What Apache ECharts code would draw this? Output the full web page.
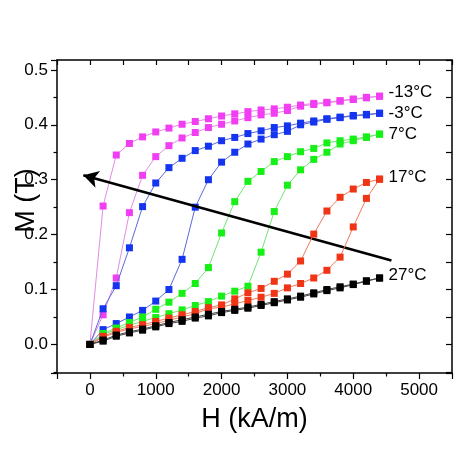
<!DOCTYPE html>
<html>
<head>
<meta charset="utf-8">
<script src="https://cdn.jsdelivr.net/npm/echarts@6/dist/echarts.min.js"></script>
<style>html,body{margin:0;padding:0;background:#fff}#c{width:474px;height:474px}</style>
</head>
<body>
<div id="c"></div>
<script>
// Applied field H (kA/m)
const H = [0,200,400,600,800,1000,1200,1400,1600,1800,2000,2200,2400,2600,2800,3000,3200,3400,3600,3800,4000,4200,4400];
// Magnetization M (T), increasing (up) and decreasing (down) field branches
const m13Up   = [0,0.054,0.121,0.240,0.308,0.342,0.362,0.376,0.386,0.395,0.401,0.407,0.413,0.418,0.421,0.426,0.434,0.437,0.440,0.443,0.446,0.449,0.452];
const m13Down = [0,0.252,0.345,0.366,0.378,0.387,0.394,0.401,0.406,0.411,0.416,0.420,0.424,0.427,0.429,0.432,0.436,0.439,0.441,0.444,0.447,0.450,0.452];
const m3Up    = [0,0.027,0.038,0.050,0.062,0.079,0.100,0.155,0.250,0.300,0.332,0.350,0.365,0.374,0.382,0.388,0.400,0.405,0.410,0.413,0.416,0.418,0.421];
const m3Down  = [0,0.065,0.107,0.176,0.251,0.294,0.322,0.339,0.353,0.361,0.371,0.377,0.384,0.389,0.395,0.398,0.403,0.407,0.411,0.414,0.417,0.419,0.421];
const p7Up    = [0,0.018,0.027,0.035,0.042,0.049,0.056,0.063,0.071,0.078,0.088,0.097,0.106,0.168,0.242,0.290,0.318,0.337,0.350,0.365,0.371,0.377,0.383];
const p7Down  = [0,0.020,0.030,0.040,0.050,0.064,0.077,0.093,0.111,0.140,0.203,0.260,0.297,0.315,0.333,0.342,0.351,0.357,0.367,0.371,0.374,0.378,0.383];
const p17Up   = [0,0.013,0.022,0.028,0.033,0.038,0.044,0.050,0.056,0.065,0.068,0.074,0.080,0.086,0.093,0.103,0.111,0.121,0.135,0.159,0.214,0.266,0.301];
const p17Down = [0,0.015,0.024,0.031,0.036,0.042,0.048,0.054,0.060,0.067,0.072,0.083,0.094,0.102,0.115,0.128,0.152,0.201,0.243,0.268,0.283,0.295,0.301];
const p27Up   = [0,0.006,0.015,0.021,0.026,0.032,0.038,0.042,0.048,0.052,0.058,0.062,0.066,0.071,0.076,0.081,0.086,0.092,0.098,0.103,0.109,0.115,0.121];
const p27Down = [0,0.008,0.017,0.023,0.028,0.034,0.040,0.045,0.050,0.055,0.060,0.064,0.068,0.073,0.078,0.083,0.088,0.094,0.100,0.105,0.110,0.116,0.121];
// Temperature labels
const temps = ['-13°C','-3°C','7°C','17°C','27°C'];
// Arrow (start -> tip) in data coordinates
const arrowStart = [4580, 0.153];
const arrowTip = [-100, 0.308];

const FONT = 'Liberation Sans, Arial, sans-serif';
const groups = [
  {up: m13Up, down: m13Down, pt: '#f23ef2', ln: '#e48ae4', t: temps[0], off: [0,-4]},
  {up: m3Up, down: m3Down, pt: '#1434f0', ln: '#5a6ad6', t: temps[1], off: [0,0]},
  {up: p7Up, down: p7Down, pt: '#16f016', ln: '#72e472', t: temps[2], off: [0,0]},
  {up: p17Up, down: p17Down, pt: '#f03416', ln: '#ee7a5c', t: temps[3], off: [0,-2]},
  {up: p27Up, down: p27Down, pt: '#000000', ln: '#444444', t: temps[4], off: [0,-3]}
];
const series = [];
groups.forEach(function(g, gi){
  ['up','down'].forEach(function(k){
    const s = {
      type: 'line',
      data: H.map(function(h,i){ return [h, g[k][i]]; }),
      symbol: 'rect',
      symbolSize: 7,
      showAllSymbol: true,
      itemStyle: {color: g.pt},
      lineStyle: {color: g.ln, width: 1},
      z: 2 + gi,
      silent: true
    };
    if (k === 'down') {
      s.endLabel = {show: true, formatter: g.t, color: '#000', fontFamily: FONT, fontSize: 17, distance: 9, offset: g.off};
    }
    series.push(s);
  });
});
series[series.length-1].markLine = {
  silent: true,
  symbol: ['none','arrow'],
  symbolSize: [13, 15],
  label: {show: false},
  lineStyle: {color: '#000', width: 2.5, type: 'solid'},
  data: [[{coord: arrowStart}, {coord: arrowTip}]]
};

const chart = echarts.init(document.getElementById('c'), null, {renderer: 'canvas'});
chart.setOption({
  animation: false,
  backgroundColor: '#fff',
  grid: {left: 57, right: 22, top: 60, bottom: 101},
  xAxis: [{
    type: 'value', min: -500, max: 5500, splitNumber: 6, position: 'bottom',
    name: 'H (kA/m)', nameLocation: 'middle', nameGap: 33,
    nameTextStyle: {fontFamily: FONT, fontSize: 27, color: '#000'},
    axisLine: {show: true, onZero: false, lineStyle: {color: '#000', width: 1.5}},
    axisTick: {show: true, inside: false, length: 6, lineStyle: {color: '#000', width: 1.2}},
    minorTick: {show: true, splitNumber: 2, length: 3.5, lineStyle: {color: '#000', width: 1.2}},
    axisLabel: {fontFamily: FONT, fontSize: 17, color: '#000', margin: 9, showMinLabel: false, showMaxLabel: false,
      formatter: function(v){ return String(v); }},
    splitLine: {show: false}
  }, {
    type: 'value', min: -500, max: 5500, splitNumber: 6, position: 'top',
    axisLine: {show: true, onZero: false, lineStyle: {color: '#000', width: 1.5}},
    axisTick: {show: true, inside: true, length: 5, lineStyle: {color: '#000', width: 1.2}},
    minorTick: {show: true, splitNumber: 2, length: 5, lineStyle: {color: '#000', width: 1.2}},
    axisLabel: {show: false}, splitLine: {show: false}
  }],
  yAxis: [{
    type: 'value', min: -0.052, max: 0.518, splitNumber: 5, position: 'left',
    name: 'M (T)', nameLocation: 'middle', nameGap: 17, nameMoveOverlap: false,
    nameTextStyle: {fontFamily: FONT, fontSize: 27, color: '#000', padding: [0,0,0,32]},
    axisLine: {show: true, onZero: false, lineStyle: {color: '#000', width: 1.5}},
    axisTick: {show: true, inside: false, length: 6, lineStyle: {color: '#000', width: 1.2}},
    minorTick: {show: true, splitNumber: 2, length: 3.5, lineStyle: {color: '#000', width: 1.2}},
    axisLabel: {fontFamily: FONT, fontSize: 17, color: '#000', margin: 9, showMinLabel: false, showMaxLabel: false,
      formatter: function(v){ return v.toFixed(1); }},
    splitLine: {show: false}
  }, {
    type: 'value', min: -0.052, max: 0.518, splitNumber: 5, position: 'right',
    axisLine: {show: true, onZero: false, lineStyle: {color: '#000', width: 1.5}},
    axisTick: {show: true, inside: true, length: 6, lineStyle: {color: '#000', width: 1.2}},
    minorTick: {show: true, splitNumber: 2, length: 6, lineStyle: {color: '#000', width: 1.2}},
    axisLabel: {show: false}, splitLine: {show: false}
  }],
  series: series
});
</script>
</body>
</html>
